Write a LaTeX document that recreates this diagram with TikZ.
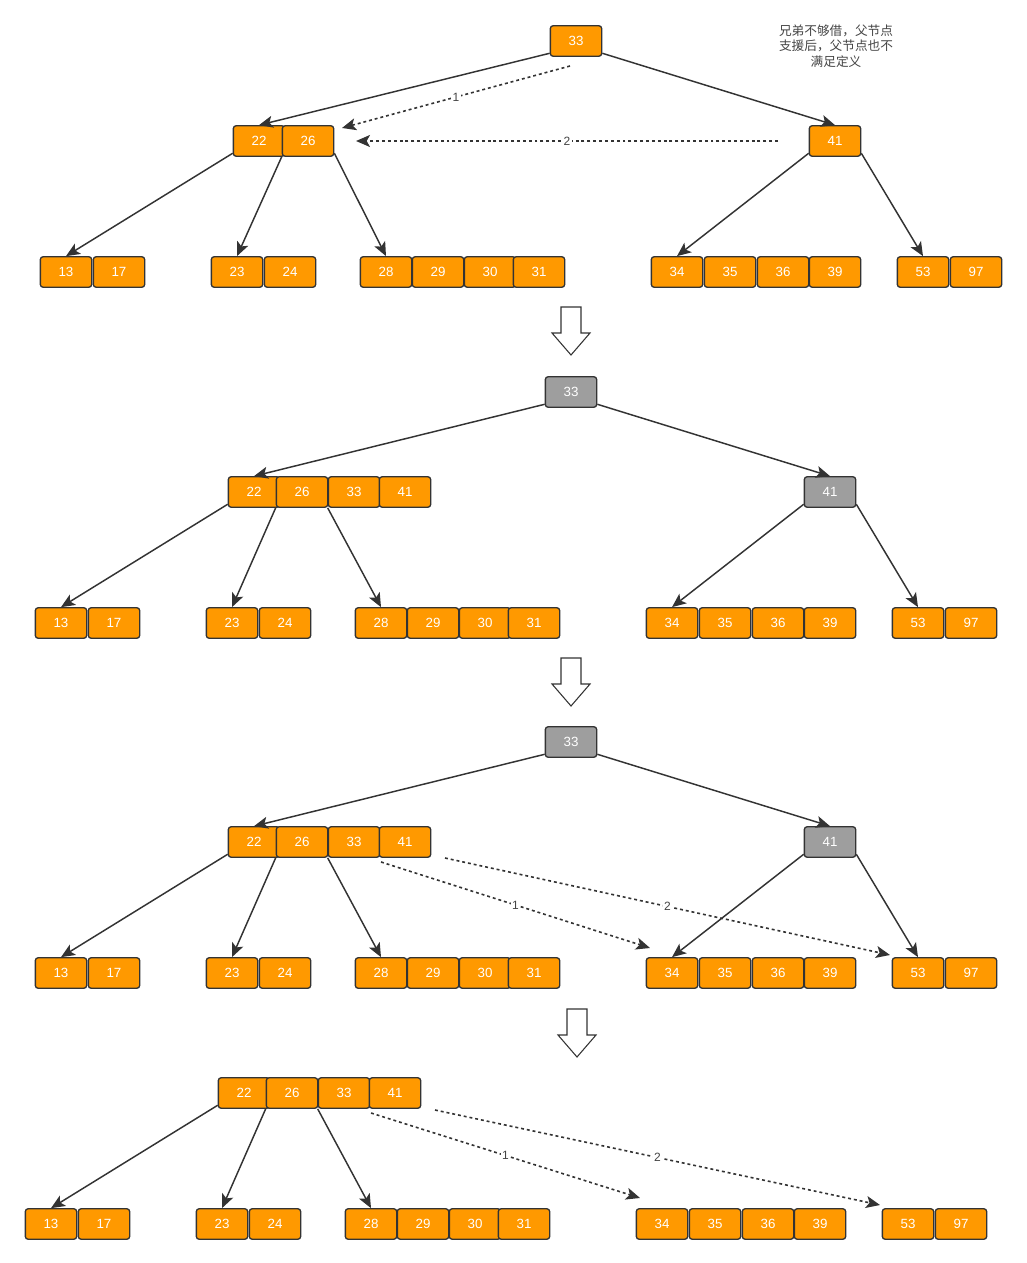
\documentclass[tikz,border=0pt]{standalone}
\usepackage{fontspec}
\setmainfont{Liberation Sans}
\newfontfamily\cjk{Noto Sans CJK SC}
\usetikzlibrary{arrows.meta, calc, positioning}
\definecolor{keyorange}{RGB}{255,153,0}
\definecolor{keygray}{RGB}{158,158,158}
\definecolor{edgegray}{RGB}{51,51,51}
\definecolor{notegray}{RGB}{68,68,68}
\tikzset{
  key/.style={draw=edgegray, line width=1pt, fill=keyorange, rounded corners=2pt,
    minimum width=38.5pt, minimum height=22.8pt, inner sep=0pt, text=white,
    font=\fontsize{10}{11}\selectfont},
  keyg/.style={key, fill=keygray},
  edge/.style={draw=edgegray, line width=1.1pt, -{Stealth[length=10.5pt,width=9pt,inset=2.5pt]}},
  move/.style={edge, line width=1.2pt, dash pattern=on 2.2pt off 2.2pt},
  movelabel/.style={fill=white, inner sep=1pt, text=notegray, font=\fontsize{9}{10}\selectfont},
  bigarrow/.style={draw=edgegray, line width=0.8pt, fill=white}
}

\begin{document}
\begin{tikzpicture}[x=0.75pt, y=-0.75pt]
\useasboundingbox (0,0) rectangle (1027,1263);

% ---------- Step 1: sibling cannot lend, parent helps ----------
\node[key] (p1-33) at (576,41) {33};
\node[key] (p1-22) at (259,141) {22};
\node[key] (p1-26) at (308,141) {26};
\node[key] (p1-41) at (835,141) {41};
\foreach \k/\x in {13/66, 17/119, 23/237, 24/290, 28/386, 29/438, 30/490, 31/539,
                   34/677, 35/730, 36/783, 39/835, 53/923, 97/976}
  \node[key] (p1-\k) at (\x,272) {\k};

\draw[edge] (p1-33.205) -- (p1-22.north);
\draw[edge] (p1-33.335) -- (p1-41.north);
\draw[edge] (p1-22.205) -- (p1-13.north);
\draw[edge] (p1-26.south west) -- (p1-23.north);
\draw[edge] (p1-26.335) -- (p1-28.north);
\draw[edge] (p1-41.205) -- (p1-34.north);
\draw[edge] (p1-41.335) -- (p1-53.north);

% moves of the keys
\coordinate (p1-s1) at (570,66);
\coordinate (p1-t1) at (342,128);
\coordinate (p1-s2) at (778,141);
\coordinate (p1-t2) at (356,141);
\draw[move] (p1-s1) -- node[movelabel] {1} (p1-t1);
\draw[move] (p1-s2) -- node[movelabel] {2} (p1-t2);

% Note
\node[text=notegray, align=center, font=\cjk\fontsize{9.5}{11.6}\selectfont] (note) at (836,46)
  {兄弟不够借，父节点\\支援后，父节点也不\\满足定义};

% Step arrows
\foreach \cx/\cy in {571/307, 571/658, 577/1009}
  \draw[bigarrow] (\cx-10,\cy) -- (\cx+10,\cy) -- (\cx+10,\cy+26) -- (\cx+19,\cy+26)
    -- (\cx,\cy+48) -- (\cx-19,\cy+26) -- (\cx-10,\cy+26) -- cycle;

% ---------- Step 2: parent merged with children ----------
\node[keyg] (p2-r33) at (571,392) {33};
\node[keyg] (p2-r41) at (830,492) {41};
\foreach \k/\x in {22/254, 26/302, 33/354, 41/405}
  \node[key] (p2-\k) at (\x,492) {\k};
\foreach \k/\x in {13/61, 17/114, 23/232, 24/285, 28/381, 29/433, 30/485, 31/534,
                   34/672, 35/725, 36/778, 39/830, 53/918, 97/971}
  \node[key] (p2-\k) at (\x,623) {\k};

\draw[edge] (p2-r33.205) -- (p2-22.north);
\draw[edge] (p2-r33.335) -- (p2-r41.north);
\draw[edge] (p2-22.205) -- (p2-13.north);
\draw[edge] (p2-26.south west) -- (p2-23.north);
\draw[edge] (p2-33.south west) -- (p2-28.north);
\draw[edge] (p2-r41.205) -- (p2-34.north);
\draw[edge] (p2-r41.335) -- (p2-53.north);

% ---------- Step 3: children of 41 handed over ----------
\node[keyg] (p3-r33) at (571,742) {33};
\node[keyg] (p3-r41) at (830,842) {41};
\foreach \k/\x in {22/254, 26/302, 33/354, 41/405}
  \node[key] (p3-\k) at (\x,842) {\k};
\foreach \k/\x in {13/61, 17/114, 23/232, 24/285, 28/381, 29/433, 30/485, 31/534,
                   34/672, 35/725, 36/778, 39/830, 53/918, 97/971}
  \node[key] (p3-\k) at (\x,973) {\k};

\draw[edge] (p3-r33.205) -- (p3-22.north);
\draw[edge] (p3-r33.335) -- (p3-r41.north);
\draw[edge] (p3-22.205) -- (p3-13.north);
\draw[edge] (p3-26.south west) -- (p3-23.north);
\draw[edge] (p3-33.south west) -- (p3-28.north);
\draw[edge] (p3-r41.205) -- (p3-34.north);
\draw[edge] (p3-r41.335) -- (p3-53.north);

\coordinate (p3-s1) at (381,862);
\coordinate (p3-t1) at (650,948);
\coordinate (p3-s2) at (445,858);
\coordinate (p3-t2) at (890,955);
\draw[move] (p3-s1) -- node[movelabel] {1} (p3-t1);
\draw[move] (p3-s2) -- node[movelabel] {2} (p3-t2);

% ---------- Step 4: new root ----------
\foreach \k/\x in {22/244, 26/292, 33/344, 41/395}
  \node[key] (p4-\k) at (\x,1093) {\k};
\foreach \k/\x in {13/51, 17/104, 23/222, 24/275, 28/371, 29/423, 30/475, 31/524,
                   34/662, 35/715, 36/768, 39/820, 53/908, 97/961}
  \node[key] (p4-\k) at (\x,1224) {\k};

\draw[edge] (p4-22.205) -- (p4-13.north);
\draw[edge] (p4-26.south west) -- (p4-23.north);
\draw[edge] (p4-33.south west) -- (p4-28.north);

\coordinate (p4-s1) at (371,1113);
\coordinate (p4-t1) at (640,1198);
\coordinate (p4-s2) at (435,1110);
\coordinate (p4-t2) at (880,1205);
\draw[move] (p4-s1) -- node[movelabel] {1} (p4-t1);
\draw[move] (p4-s2) -- node[movelabel] {2} (p4-t2);

\end{tikzpicture}
\end{document}
